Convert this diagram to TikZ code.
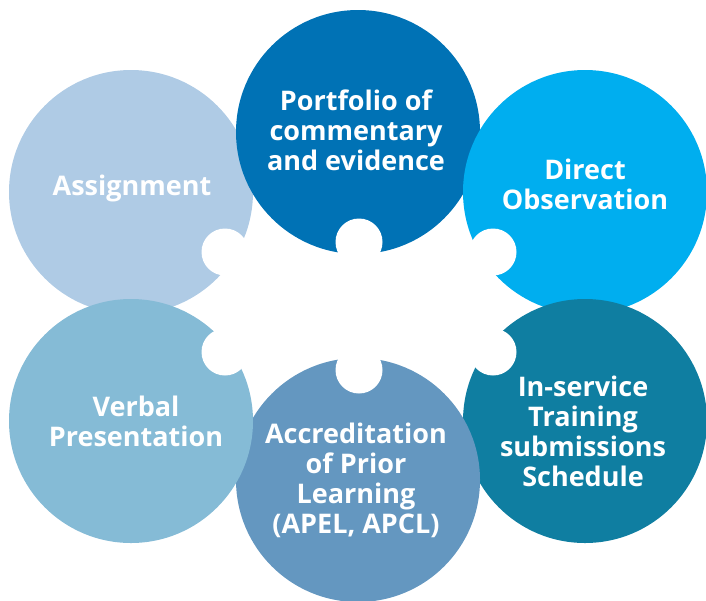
\documentclass[tikz,border=0pt]{standalone}
\usepackage{fontspec}
\setmainfont{Open Sans}
\definecolor{cAssign}{HTML}{AFCBE5}
\definecolor{cPort}{HTML}{0072B5}
\definecolor{cDirect}{HTML}{00AEEF}
\definecolor{cServ}{HTML}{0F7EA1}
\definecolor{cAccr}{HTML}{6497C0}
\definecolor{cVerbal}{HTML}{85BBD6}
\begin{document}
\begin{tikzpicture}[x=1pt,y=-1pt]
\tikzset{
    bubble/.style={circle, fill=#1, minimum size=244pt, inner sep=0pt},
    notch/.style={circle, fill=white, minimum size=47pt, inner sep=0pt},
    caption/.style={text=white, align=center, inner sep=0pt, font=\bfseries\fontsize{27}{30}\selectfont}
}
\useasboundingbox (0,0) rectangle (706,600);
\node[bubble=cAssign] (assign) at (131,192) {};
\node[bubble=cPort] (port) at (358,132) {};
\node[bubble=cDirect] (direct) at (585,192) {};
\node[bubble=cServ] (serv) at (585,421) {};
\node[bubble=cAccr] (accr) at (358,480) {};
\node[bubble=cVerbal] (verbal) at (131,421) {};
\def\notchlist{(225,252),(359,242),(493,252),(493,352),(359,370),(225,352)}
\foreach \pt [count=\i] in \notchlist
{
  \node[notch] (notch\i) at \pt {};
}
\node[caption] (assigntxt) at (132,188) {Assignment};
\node[caption] (porttxt) at (356,130) {Portfolio of\\commentary\\and evidence};
\node[caption] (directtxt) at (585,184) {Direct\\Observation};
\node[caption] (servtxt) at (583,431) {In-service\\Training\\submissions\\Schedule};
\node[caption] (accrtxt) at (356,480) {Accreditation\\of Prior\\Learning\\(APEL, APCL)};
\node[caption] (verbaltxt) at (136,421) {Verbal\\Presentation};
\end{tikzpicture}
\end{document}
